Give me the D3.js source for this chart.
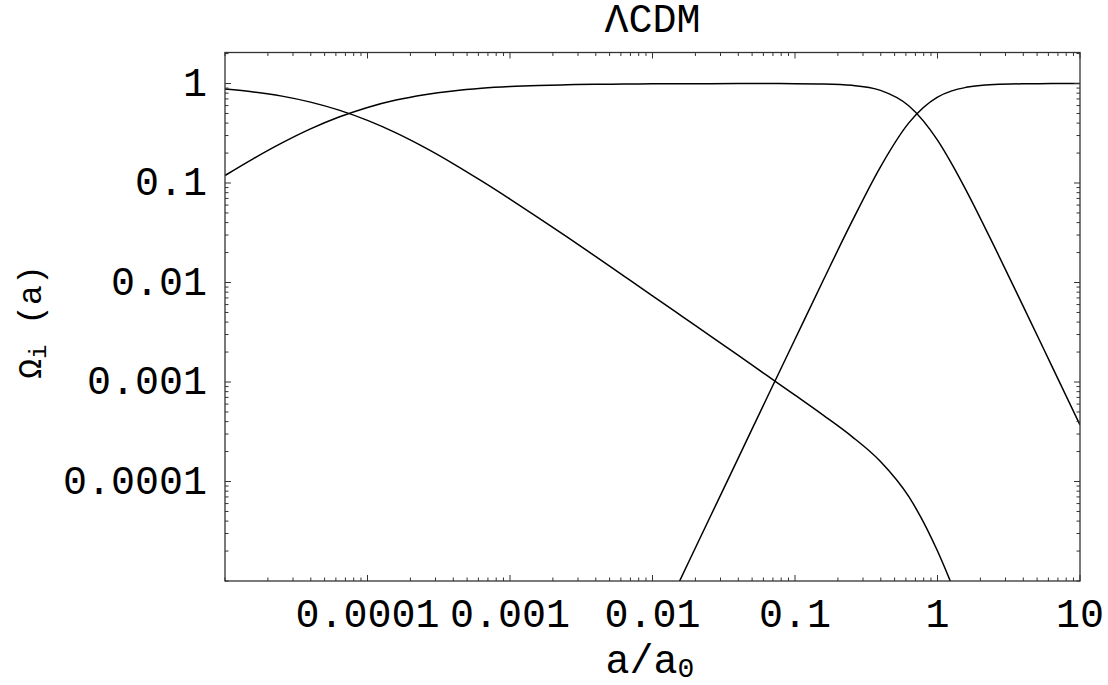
<!DOCTYPE html>
<html lang="en">
<head>
	<meta charset="UTF-8">
	<title>Lambda CDM density parameters</title>
	<style>
		body { margin: 0; background: #fff; }
		text { font-family: "Liberation Mono", "DejaVu Sans Mono", monospace; fill: #000; }
		.frame { fill: none; stroke: #333; stroke-width: 1.3; }
		.tick { stroke: #333; stroke-width: 1; }
		.curve { fill: none; stroke: #000; stroke-width: 1.5; }
	</style>
</head>
<body>
	<svg id="chart"></svg>
	<script src="https://cdn.jsdelivr.net/npm/d3@7"></script>
	<script>
		// scale factor a/a0
		var aValues = [1e-5, 1.585e-5, 2.512e-5, 3.981e-5, 6.31e-5, 1e-4, 1.585e-4, 2.512e-4, 3.981e-4, 6.31e-4,
			1e-3, 1.585e-3, 2.512e-3, 3.981e-3, 6.31e-3, 0.01, 0.01585, 0.02512, 0.03981, 0.0631,
			0.1, 0.1585, 0.2512, 0.3981, 0.631, 1, 1.259, 1.585, 2.512, 3.981, 6.31, 10];

		var radiation = [0.881, 0.824, 0.747, 0.650, 0.540, 0.426, 0.319, 0.228, 0.157, 0.105,
			0.069, 0.0447, 0.0287, 0.0183, 0.0116, 0.00735, 0.00465, 0.00294, 0.00186, 0.00117,
			7.38e-4, 4.62e-4, 2.83e-4, 1.59e-4, 7.0e-5, 2.0e-5, 9.2e-6, 4.0e-6, 1e-6, 2e-7, 4e-8, 7e-9];

		var matter = [0.119, 0.176, 0.253, 0.350, 0.460, 0.575, 0.682, 0.772, 0.843, 0.895,
			0.931, 0.955, 0.971, 0.982, 0.988, 0.9927, 0.9953, 0.997, 0.998, 0.998,
			0.9966, 0.989, 0.959, 0.854, 0.595, 0.270, 0.156, 0.085, 0.0228, 0.00583, 0.00147, 3.7e-4];

		var darkEnergy = [1e-15, 1e-14, 1e-13, 1e-12, 1e-11, 1e-10, 4e-10, 1.6e-9, 6e-9, 2.5e-8,
			1e-7, 2.6e-7, 4.5e-7, 8e-7, 1.5e-6, 2.68e-6, 1.07e-5, 4.27e-5, 1.70e-4, 6.78e-4,
			0.00269, 0.01065, 0.0411, 0.1457, 0.4045, 0.730, 0.844, 0.915, 0.9772, 0.9942, 0.9985, 0.9996];

		var xTickValues = [1e-4, 1e-3, 0.01, 0.1, 1, 10];
		var xTickLabels = ["0.0001", "0.001", "0.01", "0.1", "1", "10"];
		var yTickValues = [1, 0.1, 0.01, 0.001, 0.0001];
		var yTickLabels = ["1", "0.1", "0.01", "0.001", "0.0001"];

		var w = 1108, h = 685;
		var pLeft = 225, pRight = 1080, pTop = 52.5, pBottom = 581;

		var svg = d3.select("#chart").attr("width", w).attr("height", h);

		var x = d3.scaleLog().domain([1e-5, 10]).range([pLeft, pRight]);
		var y = d3.scaleLog().domain([1e-5, 2.05]).range([pBottom, pTop]);

		svg.append("defs").append("clipPath").attr("id", "plot")
			.append("rect")
			.attr("x", pLeft).attr("y", pTop)
			.attr("width", pRight - pLeft).attr("height", pBottom - pTop);

		// curves
		var series = [radiation, matter, darkEnergy];
		var line = d3.line()
			.x(d => x(d[0]))
			.y(d => y(d[1]))
			.curve(d3.curveMonotoneX);

		svg.append("g").attr("clip-path", "url(#plot)")
			.selectAll("path")
			.data(series)
			.enter()
			.append("path")
			.attr("class", "curve")
			.attr("d", s => line(aValues.map((a, i) => [a, s[i]])));

		// ticks on all four sides, pointing inward
		var major = 6, minor = 3.5;
		var xMinor = x.ticks().filter(v => xTickValues.indexOf(v) < 0);
		var yMinor = y.ticks().filter(v => yTickValues.indexOf(v) < 0 && v <= 2.05);
		var ticks = svg.append("g");

		function xTick(v, len) {
			ticks.append("line").attr("class", "tick")
				.attr("x1", x(v)).attr("x2", x(v)).attr("y1", pBottom).attr("y2", pBottom - len);
			ticks.append("line").attr("class", "tick")
				.attr("x1", x(v)).attr("x2", x(v)).attr("y1", pTop).attr("y2", pTop + len);
		}
		function yTick(v, len) {
			ticks.append("line").attr("class", "tick")
				.attr("y1", y(v)).attr("y2", y(v)).attr("x1", pLeft).attr("x2", pLeft + len);
			ticks.append("line").attr("class", "tick")
				.attr("y1", y(v)).attr("y2", y(v)).attr("x1", pRight).attr("x2", pRight - len);
		}
		xMinor.forEach(v => xTick(v, minor));
		xTickValues.forEach(v => xTick(v, major));
		yMinor.forEach(v => yTick(v, minor));
		yTickValues.forEach(v => yTick(v, major));

		svg.append("rect").attr("class", "frame")
			.attr("x", pLeft).attr("y", pTop)
			.attr("width", pRight - pLeft).attr("height", pBottom - pTop);

		// tick labels
		svg.append("g").selectAll("text")
			.data(xTickValues)
			.enter()
			.append("text")
			.attr("x", d => x(d))
			.attr("y", pBottom + 46)
			.attr("text-anchor", "middle")
			.attr("font-size", 40)
			.text((d, i) => xTickLabels[i]);

		svg.append("g").selectAll("text")
			.data(yTickValues)
			.enter()
			.append("text")
			.attr("x", pLeft - 18)
			.attr("y", d => y(d) + 12)
			.attr("text-anchor", "end")
			.attr("font-size", 40)
			.text((d, i) => yTickLabels[i]);

		// title and axis labels
		svg.append("text")
			.attr("x", (pLeft + pRight) / 2)
			.attr("y", 31.5)
			.attr("text-anchor", "middle")
			.attr("font-size", 40)
			.text("ΛCDM");

		var xl = svg.append("text")
			.attr("x", 650)
			.attr("y", 673)
			.attr("text-anchor", "middle")
			.attr("font-size", 40);
		xl.append("tspan").text("a/a");
		xl.append("tspan").attr("font-size", 28).attr("dy", 4).text("0");

		var yl = svg.append("text")
			.attr("transform", "translate(41,322) rotate(-90)")
			.attr("text-anchor", "middle")
			.attr("font-size", 33);
		yl.append("tspan").text("Ω");
		yl.append("tspan").attr("font-size", 24).attr("dy", 5).text("i");
		yl.append("tspan").attr("dy", -5).text(" (a)");
	</script>
</body>
</html>
